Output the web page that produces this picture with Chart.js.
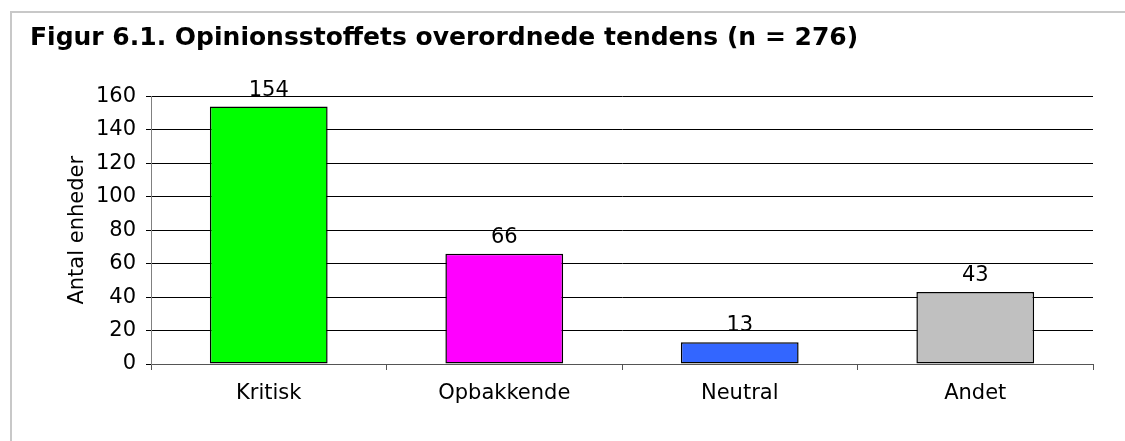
<!DOCTYPE html>
<html>
<head>
<meta charset="utf-8">
<script src="https://cdn.jsdelivr.net/npm/chart.js@4"></script>
<style>
  html, body { margin: 0; padding: 0; background: #fff; overflow: hidden; }
</style>
</head>
<body>
<canvas id="myChart" width="1125" height="441"></canvas>
<script>
const categories = ['Kritisk', 'Opbakkende', 'Neutral', 'Andet'];
const values = [154, 66, 13, 43];
const barColors = ['#00ff00', '#ff00ff', '#3366ff', '#c0c0c0'];
const yMax = 160;
const yStep = 20;

const font = '"DejaVu Sans", Verdana, sans-serif';

// grey frame along the top and left edge of the figure
const frame = {
    id: 'frame',
    beforeDraw(chart) {
        const c = chart.ctx;
        c.save();
        c.fillStyle = '#fff';
        c.fillRect(0, 0, chart.width, chart.height);
        c.strokeStyle = '#c8c8c8';
        c.lineWidth = 2;
        c.beginPath();
        c.moveTo(11, chart.height + 2);
        c.lineTo(11, 12);
        c.lineTo(chart.width + 2, 12);
        c.stroke();
        c.restore();
    }
};

const valueLabels = {
    id: 'valueLabels',
    afterDatasetsDraw(chart) {
        const c = chart.ctx;
        const meta = chart.getDatasetMeta(0);
        c.save();
        c.font = '21px ' + font;
        c.fillStyle = '#000';
        c.textAlign = 'center';
        c.textBaseline = 'alphabetic';
        meta.data.forEach((bar, i) => {
            c.fillText(String(values[i]), bar.x, bar.y - 11);
        });
        c.restore();
    }
};

const ctx = document.getElementById('myChart');

new Chart(ctx, {
    type: 'bar',
    data: {
        labels: categories,
        datasets: [{
            label: 'Antal enheder',
            data: values,
            backgroundColor: barColors,
            borderColor: '#000',
            borderWidth: 1.5,
            borderSkipped: false,
            barPercentage: 0.5,
            categoryPercentage: 1.0
        }]
    },
    options: {
        responsive: false,
        animation: false,
        layout: {
            padding: { left: 30, top: 12, right: 32, bottom: 20 }
        },
        plugins: {
            legend: { display: false },
            tooltip: { enabled: false },
            title: {
                display: true,
                text: 'Figur 6.1. Opinionsstoffets overordnede tendens (n = 276)',
                align: 'start',
                color: '#000',
                font: { family: font, size: 25, weight: 'bold' },
                padding: { top: 11, bottom: 43.5 }
            }
        },
        scales: {
            x: {
                grid: {
                    offset: true,
                    drawOnChartArea: false,
                    drawTicks: true,
                    tickLength: 6,
                    tickColor: '#555'
                },
                border: { display: true, color: '#555' },
                ticks: {
                    color: '#000',
                    padding: 11,
                    font: { family: font, size: 21 }
                },
                afterFit(scale) { scale.height = 441 - 20 - 364; }
            },
            y: {
                min: 0,
                max: yMax,
                ticks: {
                    stepSize: yStep,
                    color: '#000',
                    padding: 10,
                    font: { family: font, size: 21 }
                },
                grid: {
                    color: '#000',
                    tickColor: '#000',
                    tickLength: 5
                },
                border: { display: true, color: '#808080' },
                title: {
                    display: true,
                    text: 'Antal enheder',
                    color: '#000',
                    font: { family: font, size: 21 },
                    padding: { top: 35, bottom: 0 }
                },
                afterFit(scale) { scale.width = 151 - 30; }
            }
        }
    },
    plugins: [frame, valueLabels]
});
</script>
</body>
</html>
